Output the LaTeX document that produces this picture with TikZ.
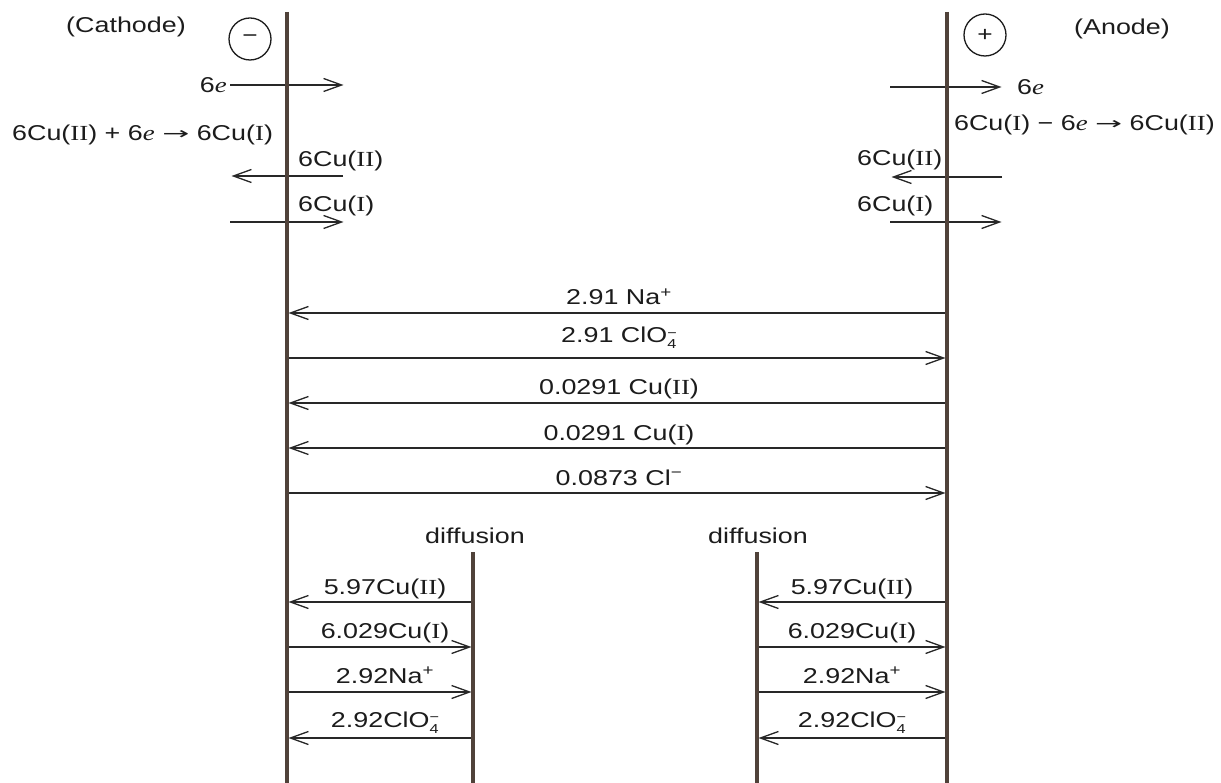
\documentclass[tikz,border=0pt]{standalone}
\usepackage{fontspec}
\setsansfont{Liberation Sans}[FakeStretch=1.25]
\newfontfamily\rnfont{Liberation Serif}[FakeStretch=1.25]
\newfontfamily\arfont{DejaVu Sans}
\renewcommand\familydefault{\sfdefault}
\usetikzlibrary{arrows.meta}
\definecolor{elc}{RGB}{80,66,58}
\definecolor{arc}{RGB}{40,40,40}
\definecolor{txc}{RGB}{28,28,28}
\newcommand\RN[1]{{\rnfont #1}}
\newcommand\ee{{\rnfont\itshape e}}
\newcommand\ra{\raisebox{1pt}{\scalebox{1.9}[1]{\arfont\fontsize{17}{20}\selectfont →}}}
\newcommand\clo{ClO\raisebox{-6pt}{\fontsize{13}{16}\selectfont\shortstack[l]{−\\4}}}
\begin{document}
\begin{tikzpicture}[x=1pt,y=-1pt,
  lbl/.style={font=\fontsize{21.5}{25}\selectfont, text=txc, inner sep=0pt},
  elec/.style={line width=3.2pt, draw=elc},
  arr/.style={draw=arc, line width=1.3pt, -{Straight Barb[length=18pt,width=13pt]}, shorten >=1.5pt},
  sign/.style={circle, draw=txc, line width=1.3pt, minimum size=42pt, inner sep=0pt, font=\fontsize{21}{22}\selectfont, text=txc}]
\useasboundingbox (0,0) rectangle (1221,783);
\fill[white] (0,0) rectangle (1221,783);

% electrodes and diffusion boundaries
\coordinate (Lt) at (287,12);  \coordinate (Lb) at (287,783);
\coordinate (Rt) at (947,12);  \coordinate (Rb) at (947,783);
\coordinate (DLt) at (473,552); \coordinate (DLb) at (473,783);
\coordinate (DRt) at (757,552); \coordinate (DRb) at (757,783);

% headings
\node[lbl, anchor=base] (cath) at (126,33) {(Cathode)};
\node[lbl, anchor=base] (anod) at (1122,35) {(Anode)};
\node[sign] (neg) at (250,39) {−};
\node[sign] (pos) at (985,35) {+};

% top left
\coordinate (e1s) at (230,85); \coordinate (e1e) at (345,85);
\draw[arr] (e1s) -- (e1e);
\node[lbl, anchor=base east] (e1l) at (227,93) {6\ee};
\node[lbl, anchor=base west] (eqL) at (12,141) {6Cu(\RN{II}) + 6\ee\ \ra\ 6Cu(\RN{I})};
\coordinate (c2s) at (343,176); \coordinate (c2e) at (230,176);
\draw[arr] (c2s) -- (c2e);
\node[lbl, anchor=base west] (c2l) at (298,167) {6Cu(\RN{II})};
\coordinate (c1s) at (230,222); \coordinate (c1e) at (345,222);
\draw[arr] (c1s) -- (c1e);
\node[lbl, anchor=base west] (c1l) at (298,212) {6Cu(\RN{I})};

% top right
\coordinate (e2s) at (890,87); \coordinate (e2e) at (1003,87);
\draw[arr] (e2s) -- (e2e);
\node[lbl, anchor=base west] (e2l) at (1017,95) {6\ee};
\node[lbl, anchor=base east] (eqR) at (1215,131) {6Cu(\RN{I}) − 6\ee\ \ra\ 6Cu(\RN{II})};
\coordinate (d2s) at (1002,177); \coordinate (d2e) at (890,177);
\draw[arr] (d2s) -- (d2e);
\node[lbl, anchor=base west] (d2l) at (857,166) {6Cu(\RN{II})};
\coordinate (d1s) at (890,222); \coordinate (d1e) at (1003,222);
\draw[arr] (d1s) -- (d1e);
\node[lbl, anchor=base west] (d1l) at (857,212) {6Cu(\RN{I})};

% migration between electrodes
\draw[arr] (Rt|-0,313) -- (Lt|-0,313);
\node[lbl, anchor=base] (m1) at (619,305) {2.91 Na\textsuperscript{+}};
\draw[arr] (Lt|-0,358) -- (Rt|-0,358);
\node[lbl, anchor=base] (m2) at (619,343) {2.91 \clo};
\draw[arr] (Rt|-0,403) -- (Lt|-0,403);
\node[lbl, anchor=base] (m3) at (619,395) {0.0291 Cu(\RN{II})};
\draw[arr] (Rt|-0,448) -- (Lt|-0,448);
\node[lbl, anchor=base] (m4) at (619,440) {0.0291 Cu(\RN{I})};
\draw[arr] (Lt|-0,493) -- (Rt|-0,493);
\node[lbl, anchor=base] (m5) at (619,485) {0.0873 Cl\textsuperscript{−}};

% diffusion labels
\node[lbl, anchor=base] (dfl) at (475,543) {diffusion};
\node[lbl, anchor=base] (dfr) at (758,543) {diffusion};

% bottom left
\draw[arr] (DLt|-0,602) -- (Lt|-0,602);
\node[lbl, anchor=base] (b1) at (385,594) {5.97Cu(\RN{II})};
\draw[arr] (Lt|-0,647) -- (DLt|-0,647);
\node[lbl, anchor=base] (b2) at (385,638) {6.029Cu(\RN{I})};
\draw[arr] (Lt|-0,692) -- (DLt|-0,692);
\node[lbl, anchor=base] (b3) at (385,683) {2.92Na\textsuperscript{+}};
\draw[arr] (DLt|-0,738) -- (Lt|-0,738);
\node[lbl, anchor=base] (b4) at (385,727) {2.92\clo};

% bottom right
\draw[arr] (Rt|-0,602) -- (DRt|-0,602);
\node[lbl, anchor=base] (r1) at (852,594) {5.97Cu(\RN{II})};
\draw[arr] (DRt|-0,647) -- (Rt|-0,647);
\node[lbl, anchor=base] (r2) at (852,638) {6.029Cu(\RN{I})};
\draw[arr] (DRt|-0,692) -- (Rt|-0,692);
\node[lbl, anchor=base] (r3) at (852,683) {2.92Na\textsuperscript{+}};
\draw[arr] (Rt|-0,738) -- (DRt|-0,738);
\node[lbl, anchor=base] (r4) at (852,727) {2.92\clo};

% vertical lines on top
\draw[elec] (Lt) -- (Lb);
\draw[elec] (Rt) -- (Rb);
\draw[elec] (DLt) -- (DLb);
\draw[elec] (DRt) -- (DRb);
\end{tikzpicture}
\end{document}
